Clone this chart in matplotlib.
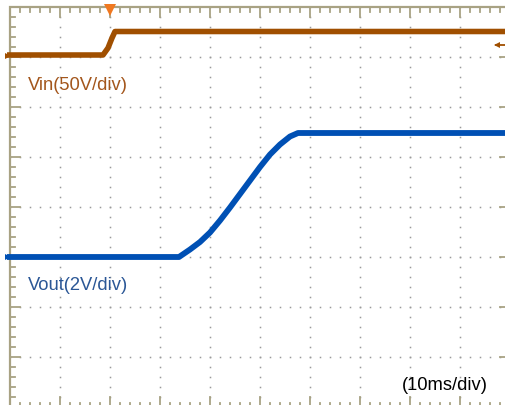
import numpy as np
import matplotlib as mpl
import matplotlib.pyplot as plt

mpl.rcParams.update({
    "font.family": ["Liberation Sans", "DejaVu Sans"],
    "font.size": 13.2,
})

# scope settings
ms_per_div = 10.0
vin_per_div = 50.0
vout_per_div = 2.0
vin_ground = 7.0     # division of the CH1 ground marker
vout_ground = 3.0    # division of the CH2 ground marker
trig_time = 20.0     # ms
trig_level = 12.0    # V (CH1)

# traces: time in ms, volts
t_vin = [-0.6, 18.6, 19.6, 20.4, 21.0, 99.2]
vin = [2.0, 2.0, 9.0, 19.0, 25.5, 25.5]

t_vout = [-0.6, 33.8, 36.0, 38.0, 40.0, 42.0, 44.0, 46.0, 48.0, 50.0, 52.0,
          54.0, 56.0, 57.6, 99.2]
vout = [0.0, 0.0, 0.3, 0.6, 0.98, 1.46, 1.98, 2.52, 3.06, 3.6, 4.1,
        4.5, 4.82, 4.96, 4.96]

vin_color = "#a04f00"
vout_color = "#0050b4"
frame_color = "#a8a283"
dot_color = "#9a9a9a"

fig = plt.figure(figsize=(5.06, 4.05), dpi=100)
ax = fig.add_axes([0, 0, 1, 1])
ax.set_xlim(-0.2, 9.92)
ax.set_ylim(0.04, 8.14)
ax.axis("off")

# dotted graticule
fine = np.arange(0, 10.001, 0.2)
fine_y = np.arange(0, 8.001, 0.2)
for gx in range(1, 10):
    ax.plot(np.full_like(fine_y, gx), fine_y, ls="none", marker="s", ms=1.1,
            mew=0, color=dot_color)
for gy in range(1, 8):
    ax.plot(fine, np.full_like(fine, gy), ls="none", marker="s", ms=1.1,
            mew=0, color=dot_color)

# frame with ticks
ax.plot([0, 10, 10, 0, 0], [0, 0, 8, 8, 0], color=frame_color, lw=1.6,
        solid_joinstyle="miter")
for v in fine:
    L = 0.2 if abs(v - round(v)) < 1e-6 else 0.09
    ax.plot([v, v], [8, 8 - L], color=frame_color, lw=1.3)
    ax.plot([v, v], [0, L], color=frame_color, lw=1.3)
for v in fine_y:
    L = 0.2 if abs(v - round(v)) < 1e-6 else 0.09
    ax.plot([0, L], [v, v], color=frame_color, lw=1.3)
    ax.plot([10, 10 - L], [v, v], color=frame_color, lw=1.3)

# traces
x_vin = np.array(t_vin) / ms_per_div
y_vin = vin_ground + np.array(vin) / vin_per_div
x_vout = np.array(t_vout) / ms_per_div
y_vout = vout_ground + np.array(vout) / vout_per_div

ax.plot(x_vin, y_vin, color=vin_color, lw=4.0, solid_capstyle="butt")
ax.plot(x_vout, y_vout, color=vout_color, lw=4.2, solid_capstyle="butt")

# markers: channel grounds, trigger position and level
ax.plot(-0.04, vin_ground + 0.02, marker=">", ms=5, color=vin_color, mew=0)
ax.plot(-0.04, vout_ground, marker=">", ms=5, color=vout_color, mew=0)
ax.plot(trig_time / ms_per_div, 7.95, marker="v", ms=8, color="#f07820", mew=0)
ty = vin_ground + trig_level / vin_per_div
ax.plot([9.72, 9.92], [ty, ty], color=vin_color, lw=1.3)
ax.plot(9.73, ty, marker="<", ms=5, color=vin_color, mew=0)

# labels
ax.text(0.36, 6.44, "Vin(50V/div)", color="#a3561c", va="center", ha="left")
ax.text(0.36, 2.44, "Vout(2V/div)", color="#2b5796", va="center", ha="left")
ax.text(9.56, 0.44, "(10ms/div)", color="black", va="center", ha="right")

fig.savefig("out.png", dpi=100)
